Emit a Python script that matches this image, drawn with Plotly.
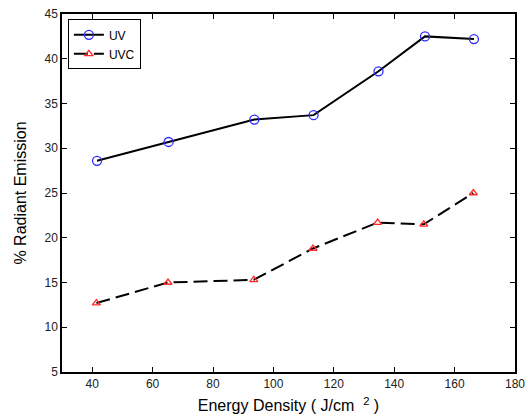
import plotly.graph_objects as go

# Energy density (J/cm^2) and measured radiant emission (%)
energy_uv = [41.6, 65.3, 93.7, 113.3, 134.8, 150.2, 166.4]
emission_uv = [28.6, 30.7, 33.2, 33.7, 38.6, 42.5, 42.2]

energy_uvc = [41.4, 65.1, 93.5, 113.1, 134.5, 149.8, 166.2]
emission_uvc = [12.7, 15.0, 15.3, 18.8, 21.7, 21.5, 25.0]

x_ticks = [40, 60, 80, 100, 120, 140, 160, 180]
y_ticks = [5, 10, 15, 20, 25, 30, 35, 40, 45]

fig = go.Figure()
fig.add_trace(go.Scatter(
    x=energy_uv, y=emission_uv, name="UV", mode="lines+markers",
    line=dict(color="black", width=2),
    marker=dict(symbol="circle-open", size=9, color="#2a2aff", line=dict(width=1.3)),
))
fig.add_trace(go.Scatter(
    x=energy_uvc, y=emission_uvc, name="UVC", mode="lines+markers",
    line=dict(color="black", width=2, dash="14px,6px"),
    marker=dict(symbol="triangle-up-open", size=7, color="#ff2a2a", line=dict(width=1.3)),
))

axis_common = dict(
    showgrid=False, zeroline=False, showline=True, linecolor="black", linewidth=1.5,
    mirror="ticks", ticks="inside", ticklen=5, tickcolor="black", automargin=False,
    tickfont=dict(family="Liberation Sans, Arial", size=12, color="#222"),
)
fig.update_xaxes(range=[30, 180], tickvals=x_ticks,
                 title=dict(text="Energy Density ( J/cm  <sup>2</sup> )",
                            font=dict(family="Liberation Sans, Arial", size=16, color="black"),
                            standoff=10),
                 **axis_common)
fig.update_yaxes(range=[5, 45], tickvals=y_ticks,
                 title=dict(text="% Radiant Emission",
                            font=dict(family="Liberation Sans, Arial", size=16, color="black"),
                            standoff=14),
                 **axis_common)

fig.update_layout(
    width=528, height=420,
    margin=dict(l=62, r=13, t=14, b=48),
    paper_bgcolor="white", plot_bgcolor="white",
    showlegend=True,
    legend=dict(x=0.013, y=0.985, xanchor="left", yanchor="top",
                bordercolor="black", borderwidth=1, bgcolor="white",
                font=dict(family="Liberation Sans, Arial", size=12, color="black"),
                tracegroupgap=0, itemwidth=30),
)

fig.write_html("out.html")
